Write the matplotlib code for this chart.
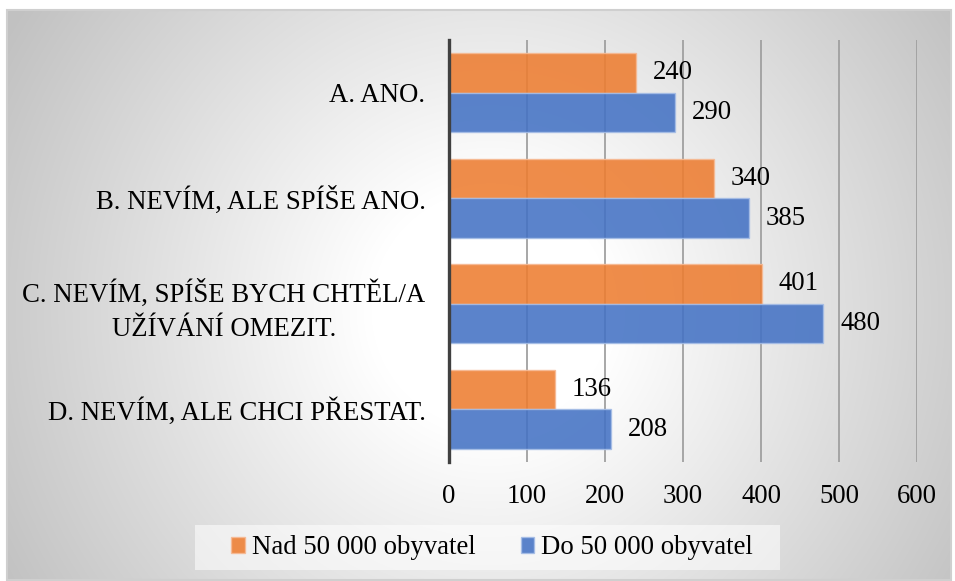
import numpy as np
import matplotlib
matplotlib.use("Agg")
import matplotlib.pyplot as plt
from matplotlib.patches import Rectangle

plt.rcParams['font.family'] = ['Liberation Serif', 'DejaVu Serif']

categories = [
    "A. ANO.",
    "B. NEVÍM, ALE SPÍŠE ANO.",
    "C. NEVÍM, SPÍŠE BYCH CHTĚL/A\nUŽÍVÁNÍ OMEZIT.",
    "D. NEVÍM, ALE CHCI PŘESTAT.",
]
series_names = ["Nad 50 000 obyvatel", "Do 50 000 obyvatel"]
nad_50000 = [240, 340, 401, 136]
do_50000 = [290, 385, 480, 208]
x_ticks = [0, 100, 200, 300, 400, 500, 600]

FS = 19.3
W, H = 955, 581
fig = plt.figure(figsize=(W / 100, H / 100), dpi=100)
fig.patch.set_facecolor("white")

# radial grey-to-white backdrop inside the chart frame
fx0, fy0, fx1, fy1 = 7, 10, 951, 580
bg = fig.add_axes([fx0 / W, 1 - fy1 / H, (fx1 - fx0) / W, (fy1 - fy0) / H], zorder=-5)
xx, yy = np.meshgrid(np.arange(fx0, fx1), np.arange(fy0, fy1))
r = np.hypot(xx - 490, yy - 310)
t = np.clip((r - 120) / 440, 0, 1)
shade = 1.0 - t * (255 - 193) / 255
bg.imshow(np.dstack([shade, shade, shade]), aspect="auto", interpolation="bilinear")
bg.set_axis_off()
fig.add_artist(Rectangle((fx0 / W, 1 - fy1 / H), (fx1 - fx0) / W, (fy1 - fy0) / H,
                         transform=fig.transFigure, fill=False,
                         edgecolor="#cfcfcf", linewidth=1.5, zorder=-4))

ax = fig.add_axes([449 / W, 1 - 462 / H, 468 / W, 422 / H])
ax.set_facecolor("none")

y = np.arange(len(categories))
h = 0.375
orange, blue = "#ED7D31", "#4472C4"
b1 = ax.barh(y - h / 2, nad_50000, height=h, color=orange, alpha=0.88,
             edgecolor="#F6B993", linewidth=1.0, zorder=3, label=series_names[0])
b2 = ax.barh(y + h / 2, do_50000, height=h, color=blue, alpha=0.88,
             edgecolor="#A5BDE6", linewidth=1.0, zorder=3, label=series_names[1])

for bars, vals in ((b1, nad_50000), (b2, do_50000)):
    for bar, v in zip(bars, vals):
        ax.annotate(f"{v}", (v, bar.get_y() + bar.get_height() / 2),
                    xytext=(12, 0), textcoords="offset points",
                    ha="left", va="center", fontsize=FS, color="black", zorder=5)

ax.set_xlim(0, 600)
ax.set_ylim(3.5, -0.5)
ax.set_xticks(x_ticks)
ax.set_xticklabels([str(v) for v in x_ticks], fontsize=FS)
ax.set_yticks(y)
ax.set_yticklabels(categories, fontsize=FS, multialignment="center", linespacing=1.45)
ax.tick_params(axis="both", length=0)
ax.tick_params(axis="x", pad=16)
ax.tick_params(axis="y", pad=17)
ax.grid(axis="x", color="#a0a0a0", linewidth=1.3, zorder=1)
ax.set_axisbelow(True)
for s in ("top", "right", "bottom"):
    ax.spines[s].set_visible(False)
ax.spines["left"].set_color("#404040")
ax.spines["left"].set_linewidth(2.4)
ax.spines["left"].set_zorder(4)

# legend panel
fig.add_artist(Rectangle((195 / W, 1 - 570 / H), 585 / W, 45 / H,
                         transform=fig.transFigure, facecolor="white",
                         alpha=0.55, edgecolor="none", zorder=1))
leg = fig.legend(handles=[b1, b2], loc="center", bbox_to_anchor=(492 / W, 1 - 548 / H),
                 ncol=2, frameon=False, fontsize=FS, handlelength=0.5, handleheight=0.5,
                 handletextpad=0.25, columnspacing=1.7)
for hnd in leg.legend_handles:
    hnd.set_alpha(0.88)

fig.savefig("out.png", dpi=100)
